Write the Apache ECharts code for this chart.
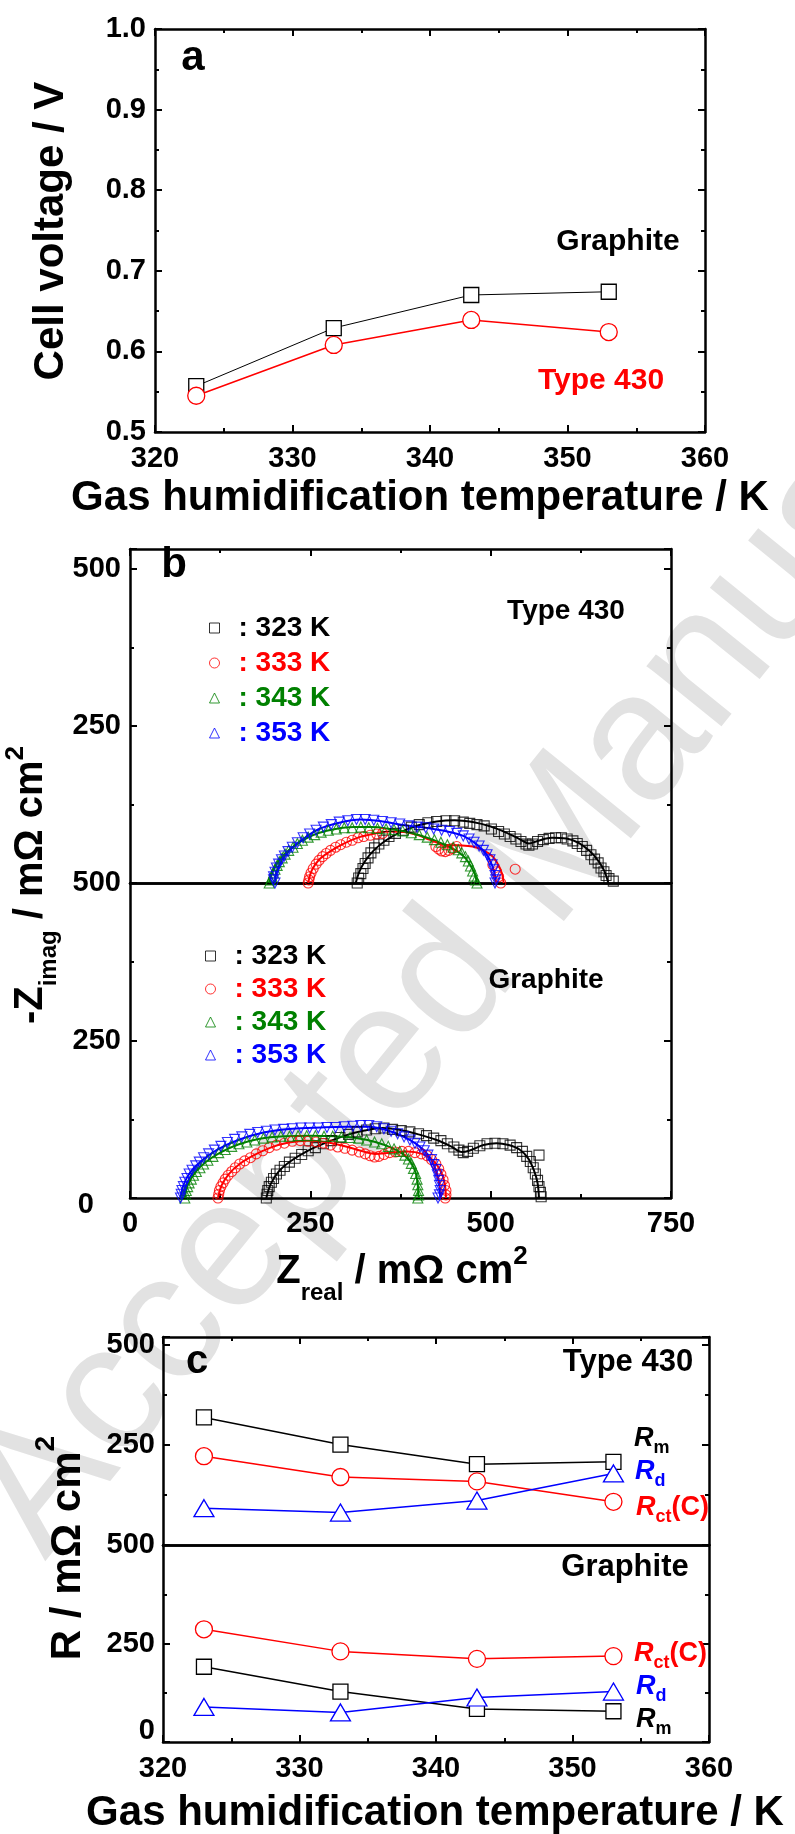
<!DOCTYPE html>
<html><head><meta charset="utf-8">
<script src="https://cdn.jsdelivr.net/npm/echarts@6/dist/echarts.min.js"></script>
<style>html,body{margin:0;padding:0;background:#fff}#c{width:795px;height:1834px}</style>
</head><body><div id="c"></div>
<script>
const FONT = '"Liberation Sans", Arial, Helvetica, sans-serif';
const BLACK = '#000000', RED = '#ff0000', BLUE = '#0000ff', GREEN = '#008000';

// ---------- Panel a : cell voltage ----------
const tempK = [323, 333, 343, 353];
const voltGraphite = [0.557, 0.629, 0.670, 0.674];
const volt430 = [0.545, 0.608, 0.639, 0.624];
const tempTicks = [320, 330, 340, 350, 360];
const voltTicks = [0.5, 0.6, 0.7, 0.8, 0.9, 1.0];

// ---------- Panel b : Nyquist plots [Zreal, -Zimag] ----------
const zTicks = [0, 250, 500, 750];
const zimTicks = [0, 250, 500];
const tempNames = ['323 K', '333 K', '343 K', '353 K'];

// Type 430 (upper half)
const t430_323 = [[315,0],[317,8],[320,15],[323,23],[326,31],[330,40],[334,48],[339,56],[345,62],[352,68],[359,74],[368,79],[379,84],[390,89],[401,93],[413,96],[425,98],[438,99],[450,99],[462,97],[471,95],[481,93],[491,91],[501,86],[511,82],[519,78],[527,74],[535,70],[542,66],[549,62],[553,60],[558,62],[565,66],[573,69],[581,71],[590,72],[598,72],[606,70],[614,67],[620,63],[627,58],[633,52],[639,45],[644,38],[649,32],[653,24],[657,18],[660,12],[664,7],[670,3]];
const t430_323_fit = [[313,0],[318,18],[326,35],[338,52],[355,68],[375,81],[400,92],[425,98],[450,100],[475,97],[500,90],[520,81],[540,70],[553,63],[565,67],[585,72],[605,71],[622,64],[638,50],[650,34],[658,18],[663,0]];
const t430_333 = [[247,0],[248,5],[249,10],[251,16],[254,23],[258,30],[262,36],[267,42],[272,47],[278,52],[285,57],[292,61],[300,65],[308,68],[316,72],[324,74],[333,76],[342,78],[350,79],[424,58],[428,54],[432,51],[437,50],[442,52],[447,55],[453,58],[503,29],[508,18],[511,10],[514,0],[534,22]];
const t430_333_fit = [[247,0],[252,20],[262,37],[277,50],[295,62],[318,73],[340,79],[359,82],[380,81],[400,76],[415,69],[435,61],[455,60],[475,58],[490,52],[503,42],[511,28],[516,14],[518,0]];
const t430_343 = [[193,0],[195,5],[197,10],[199,16],[201,22],[204,28],[207,34],[211,40],[215,46],[220,52],[226,57],[232,63],[239,68],[247,73],[256,77],[265,81],[275,84],[286,86],[297,88],[308,88],[320,89],[331,88],[343,87],[355,86],[366,85],[378,83],[390,80],[401,77],[412,73],[422,69],[431,65],[440,61],[448,57],[455,53],[460,48],[465,42],[469,35],[472,27],[475,19],[477,11],[479,5],[481,0]];
const t430_343_fit = [[193,0],[198,18],[207,36],[220,52],[238,67],[260,79],[285,86],[310,89],[335,89],[360,86],[385,81],[410,73],[432,63],[450,53],[463,42],[472,28],[478,14],[481,0]];
const t430_353 = [[201,0],[199,5],[199,10],[201,17],[203,24],[206,30],[210,37],[214,43],[219,50],[225,57],[232,64],[240,72],[249,78],[258,84],[268,89],[279,93],[290,97],[302,99],[314,101],[326,101],[338,100],[350,98],[362,96],[374,94],[386,91],[398,89],[410,88],[421,86],[432,84],[443,82],[453,79],[462,75],[470,70],[477,65],[484,59],[490,52],[495,45],[499,37],[502,29],[504,21],[506,12],[507,5],[506,0]];
const t430_353_fit = [[201,0],[203,18],[210,36],[222,53],[240,70],[262,86],[290,96],[320,101],[350,98],[380,92],[410,88],[440,82],[462,75],[480,62],[494,46],[502,28],[506,12],[507,0]];

// Graphite (lower half)
const g_323 = [[189,0],[190,6],[191,12],[193,18],[196,25],[199,31],[203,38],[208,44],[214,50],[221,57],[229,63],[238,69],[247,75],[257,80],[268,86],[279,91],[291,96],[303,101],[315,105],[328,108],[340,110],[352,111],[364,109],[376,107],[388,105],[400,102],[411,99],[421,95],[431,91],[440,86],[449,81],[456,76],[462,72],[468,74],[476,79],[485,83],[495,86],[506,87],[517,86],[527,84],[536,80],[544,74],[550,66],[555,58],[559,48],[562,38],[565,28],[567,18],[569,9],[570,2],[567,68]];
const g_323_fit = [[189,0],[195,22],[206,42],[222,58],[245,74],[270,87],[298,99],[325,107],[350,111],[375,108],[400,101],[425,92],[445,82],[460,73],[470,75],[490,84],[508,87],[525,84],[540,77],[552,63],[560,44],[565,24],[567,0]];
const g_333 = [[122,0],[123,6],[124,12],[126,18],[129,24],[132,30],[136,36],[141,42],[146,48],[152,54],[159,59],[167,64],[175,70],[184,75],[193,80],[203,84],[214,87],[225,90],[236,91],[247,90],[258,89],[268,87],[278,84],[288,81],[298,79],[308,76],[318,73],[326,70],[333,67],[339,65],[345,66],[352,69],[360,72],[368,73],[377,74],[386,74],[395,72],[404,70],[412,67],[418,61],[424,54],[428,46],[431,38],[434,29],[436,20],[438,12],[438,5],[437,0]];
const g_333_fit = [[122,0],[127,20],[137,38],[152,54],[172,68],[195,80],[220,88],[245,91],[270,89],[295,83],[320,75],[340,70],[360,72],[385,74],[405,70],[420,60],[430,44],[436,25],[438,0]];
const g_343 = [[76,0],[77,6],[78,12],[80,18],[82,24],[85,30],[88,36],[92,42],[97,48],[102,54],[108,60],[115,66],[123,72],[132,77],[141,82],[151,86],[162,89],[173,92],[185,95],[197,97],[209,98],[221,98],[233,99],[245,99],[257,99],[269,98],[281,98],[293,97],[305,96],[317,95],[328,92],[339,89],[349,86],[358,82],[366,78],[374,74],[381,68],[386,62],[390,55],[393,47],[396,39],[398,30],[399,21],[400,12],[400,5],[399,0]];
const g_343_fit = [[76,0],[80,20],[90,40],[105,57],[125,72],[150,85],[180,94],[215,98],[250,99],[285,98],[315,95],[340,89],[362,80],[378,70],[389,57],[396,40],[399,20],[400,0]];
const g_353 = [[70,0],[71,6],[72,12],[74,18],[76,25],[79,31],[82,38],[86,44],[91,51],[96,57],[102,64],[109,70],[117,76],[126,82],[135,88],[145,93],[155,97],[166,101],[177,104],[189,106],[201,108],[213,109],[225,110],[237,111],[249,111],[261,111],[273,112],[285,112],[297,113],[309,114],[320,115],[331,115],[342,113],[352,110],[362,106],[371,102],[380,97],[388,92],[395,87],[402,81],[408,75],[413,68],[418,61],[421,53],[424,45],[426,37],[428,28],[429,20],[430,12],[429,5],[427,0]];
const g_353_fit = [[70,0],[74,20],[83,40],[98,58],[120,76],[150,92],[185,104],[225,110],[265,112],[300,113],[330,113],[355,108],[378,98],[398,85],[413,69],[422,50],[428,28],[430,0]];

// ---------- Panel c : resistances ----------
const rTicks = [0, 250, 500];
const rmType430 = [319, 251, 202, 208];
const rdType430 = [92, 81, 111, 179];
const rctType430 = [222, 170, 159, 108];
const rctGraphite = [286, 230, 211, 218];
const rdGraphite = [89, 75, 113, 128];
const rmGraphite = [191, 128, 84, 78];

// ---------- helpers ----------
const pairs = (xs, ys) => xs.map((x, i) => [x, ys[i]]);
function ax(grid, pos, min, max, interval, opts) {
  return Object.assign({
    type: 'value', gridIndex: grid, position: pos, min, max, interval,
    splitLine: {show: false},
    axisLine: {show: true, onZero: false, lineStyle: {color: BLACK, width: 2.5}},
    axisTick: {show: true, inside: true, length: 7, lineStyle: {color: BLACK, width: 2}},
    minorTick: {show: true, splitNumber: 2, length: 4, lineStyle: {color: BLACK, width: 2}},
    axisLabel: {show: false}
  }, opts || {});
}
const lab = (extra) => Object.assign({show: true, color: BLACK, fontFamily: FONT, fontWeight: 'bold', fontSize: 29}, extra);
const noTicks = {axisTick: {show: false}, minorTick: {show: false}};

const xAxes = [
  ax(0, 'bottom', tempTicks[0], tempTicks[4], 10, {axisLabel: lab({margin: 12})}),
  ax(0, 'top', tempTicks[0], tempTicks[4], 10),
  ax(1, 'bottom', zTicks[0], zTicks[3], 250, noTicks),
  ax(1, 'top', zTicks[0], zTicks[3], 250),
  ax(2, 'bottom', zTicks[0], zTicks[3], 250, {axisLabel: lab({margin: 11})}),
  ax(2, 'top', zTicks[0], zTicks[3], 250, noTicks),
  ax(3, 'bottom', tempTicks[0], tempTicks[4], 10, noTicks),
  ax(3, 'top', tempTicks[0], tempTicks[4], 10),
  ax(4, 'bottom', tempTicks[0], tempTicks[4], 10, {axisLabel: lab({margin: 12})}),
  ax(4, 'top', tempTicks[0], tempTicks[4], 10, noTicks)
];
const onlyTicks = (list) => (v) => list.indexOf(Math.round(v)) >= 0 ? String(Math.round(v)) : '';
const yAxes = [
  ax(0, 'left', voltTicks[0], voltTicks[5], 0.1, {axisLabel: lab({margin: 9, formatter: v => v.toFixed(1)})}),
  ax(0, 'right', voltTicks[0], voltTicks[5], 0.1),
  ax(1, 'left', zimTicks[0], 531.8, 250, {axisLabel: lab({margin: 9, formatter: onlyTicks([250, 500])})}),
  ax(1, 'right', zimTicks[0], 531.8, 250),
  ax(2, 'left', zimTicks[0], zimTicks[2], 250, {axisLabel: lab({margin: 9,
      formatter: v => v === 0 ? '{z|0}' : String(v),
      rich: {z: {fontFamily: FONT, fontWeight: 'bold', fontSize: 29, color: BLACK, padding: [14, 27, 0, 0]}}})}),
  ax(2, 'right', zimTicks[0], zimTicks[2], 250),
  ax(3, 'left', rTicks[0], 520, 250, {axisLabel: lab({margin: 8, formatter: onlyTicks([250, 500])})}),
  ax(3, 'right', rTicks[0], 520, 250),
  ax(4, 'left', rTicks[0], rTicks[2], 250, {axisLabel: lab({margin: 8,
      formatter: v => v === 0 ? '{z|0}' : String(v),
      rich: {z: {fontFamily: FONT, fontWeight: 'bold', fontSize: 29, color: BLACK, padding: [0, 0, 22, 0]}}})}),
  ax(4, 'right', rTicks[0], rTicks[2], 250)
];

const series = [];
// panel a
series.push({type: 'line', xAxisIndex: 0, yAxisIndex: 0, data: pairs(tempK, voltGraphite), symbol: 'rect', symbolSize: 15,
  itemStyle: {color: '#fff', borderColor: BLACK, borderWidth: 1.3}, lineStyle: {color: BLACK, width: 1}, z: 3});
series.push({type: 'line', xAxisIndex: 0, yAxisIndex: 0, data: pairs(tempK, volt430), symbol: 'circle', symbolSize: 17,
  itemStyle: {color: '#fff', borderColor: RED, borderWidth: 1.3}, lineStyle: {color: RED, width: 1.6}, z: 3});

// panel b
const colors4 = [BLACK, RED, GREEN, BLUE];
const symbols4 = ['rect', 'circle', 'triangle', 'triangle'];
const rot4 = [0, 0, 0, 180];
const nyq = [
  {grid: 1, pts: [t430_323, t430_333, t430_343, t430_353], fits: [t430_323_fit, t430_333_fit, t430_343_fit, t430_353_fit]},
  {grid: 2, pts: [g_323, g_333, g_343, g_353], fits: [g_323_fit, g_333_fit, g_343_fit, g_353_fit]}
];
nyq.forEach(block => {
  const xi = block.grid === 1 ? 2 : 4, yi = block.grid === 1 ? 2 : 4;
  for (let k = 0; k < 4; k++) {
    series.push({type: 'line', xAxisIndex: xi, yAxisIndex: yi, data: block.fits[k], showSymbol: false, symbol: 'none',
      smooth: 0.35, lineStyle: {color: colors4[k], width: 2}, z: 2, silent: true});
    series.push({type: 'scatter', name: tempNames[k], xAxisIndex: xi, yAxisIndex: yi, data: block.pts[k],
      symbol: symbols4[k], symbolRotate: rot4[k], symbolSize: 10,
      itemStyle: {color: 'rgba(0,0,0,0)', borderColor: colors4[k], borderWidth: 1.1}, z: 3});
  }
});

// panel c
function rSeries(xi, vals, sym, size, color) {
  return {type: 'line', xAxisIndex: xi, yAxisIndex: xi, data: pairs(tempK, vals), symbol: sym, symbolSize: size,
    itemStyle: {color: '#fff', borderColor: color, borderWidth: 1.3}, lineStyle: {color: color, width: 1.5}, z: 3};
}
series.push(rSeries(6, rmType430, 'rect', 15, BLACK));
series.push(rSeries(6, rctType430, 'circle', 17, RED));
series.push(rSeries(6, rdType430, 'triangle', [20, 17], BLUE));
series.push(rSeries(8, rctGraphite, 'circle', 17, RED));
series.push(rSeries(8, rmGraphite, 'rect', 15, BLACK));
series.push(rSeries(8, rdGraphite, 'triangle', [20, 17], BLUE));

// ---------- text ----------
function txt(x, y, text, size, color, opts) {
  return Object.assign({type: 'text', x, y, z: 10, style: {text, fill: color || BLACK, fontFamily: FONT, fontWeight: 'bold',
    fontSize: size, align: 'center', verticalAlign: 'middle', textAlign: 'center', textVerticalAlign: 'middle'}}, opts || {});
}
function richTxt(x, y, text, rich, rotation) {
  return {type: 'text', x, y, rotation: rotation || 0, z: 10, style: {text, fill: BLACK, fontFamily: FONT, fontWeight: 'bold',
    fontSize: 40, align: 'center', verticalAlign: 'middle', textAlign: 'center', textVerticalAlign: 'middle', rich}};
}
const tok = (size, extra) => Object.assign({fontFamily: FONT, fontWeight: 'bold', fontSize: size, fill: BLACK, lineHeight: size}, extra || {});
function rLabel(x, y, sub, color, tail) {
  const t = '{R|R}{s|' + sub + '}' + (tail ? '{p|' + tail + '}' : '');
  return {type: 'text', x, y, z: 10, style: {text: t, fill: color, align: 'left', verticalAlign: 'middle', textAlign: 'left', textVerticalAlign: 'middle',
    rich: {R: tok(27, {fontStyle: 'italic', fill: color}), s: tok(18, {fill: color, padding: [18, 0, 0, 0]}), p: tok(27, {fill: color})}}};
}
const PI2 = Math.PI / 2;
const graphics = [
  // watermark
  {type: 'text', x: 6, y: 1530, rotation: 51 * Math.PI / 180, z: -1, silent: true,
    style: {text: 'Accepted Manuscript', fill: '#e2e2e2', fontFamily: FONT, fontSize: 182, align: 'left', verticalAlign: 'middle', textAlign: 'left', textVerticalAlign: 'middle'}},
  // panel a
  txt(193, 58, 'a', 42),
  txt(618, 242, 'Graphite', 30),
  txt(601, 381, 'Type 430', 30, RED),
  txt(51, 231, 'Cell voltage / V', 42, BLACK, {rotation: PI2}),
  txt(420, 498, 'Gas humidification temperature / K', 42),
  // panel b
  txt(174, 565, 'b', 42),
  txt(566, 611, 'Type 430', 28),
  txt(546, 980, 'Graphite', 28),
  richTxt(402, 1272, '{m|Z}{sub|real}{m| / mΩ cm}{sup|2}',
    {m: tok(40), sub: tok(24, {padding: [42, 0, 0, 0]}), sup: tok(26, {padding: [0, 0, 30, 0]})}),
  richTxt(31, 885, '{m|-Z}{sub|imag}{m| / mΩ cm}{sup|2}',
    {m: tok(40), sub: tok(24, {padding: [36, 0, 0, 0]}), sup: tok(26, {padding: [0, 0, 30, 0]})}, PI2),
  // panel c
  txt(197, 1362, 'c', 40),
  txt(628, 1362, 'Type 430', 31),
  txt(625, 1567, 'Graphite', 31),
  richTxt(68, 1548, '{m|R / mΩ cm}{sup|2}', {m: tok(42), sup: tok(28, {padding: [0, 0, 44, 0]})}, PI2),
  txt(435, 1813, 'Gas humidification temperature / K', 42),
  rLabel(634, 1439, 'm', BLACK),
  rLabel(635, 1472, 'd', BLUE),
  rLabel(636, 1508, 'ct', RED, '(C)'),
  rLabel(634, 1654, 'ct', RED, '(C)'),
  rLabel(636, 1687, 'd', BLUE),
  rLabel(636, 1720, 'm', BLACK)
];

const legendCommon = {orient: 'vertical', itemWidth: 10, itemHeight: 10, padding: 0, selectedMode: false,
  formatter: ': {name}', itemStyle: {borderWidth: 1},
  textStyle: {fontFamily: FONT, fontWeight: 'bold', fontSize: 28, padding: [0, 0, 0, 14]}};
const legendData = tempNames.map((n, k) => ({name: n, textStyle: {color: colors4[k]}}));

const option = {
  animation: false,
  backgroundColor: '#ffffff',
  grid: [
    {left: 155, top: 29, width: 550, height: 403},
    {left: 130, top: 549, width: 541, height: 334},
    {left: 130, top: 883, width: 541, height: 315},
    {left: 163, top: 1337, width: 546, height: 208},
    {left: 163, top: 1545, width: 546, height: 197}
  ].map(g => Object.assign({containLabel: false, outerBoundsMode: 'none'}, g)),
  xAxis: xAxes,
  yAxis: yAxes,
  legend: [
    Object.assign({left: 209, top: 614, itemGap: 7, data: legendData}, legendCommon),
    Object.assign({left: 205, top: 942, itemGap: 5, data: legendData}, legendCommon)
  ],
  graphic: {elements: graphics},
  series
};
const chart = echarts.init(document.getElementById('c'), null, {renderer: 'canvas', width: 795, height: 1834});
chart.setOption(option);
</script></body></html>
